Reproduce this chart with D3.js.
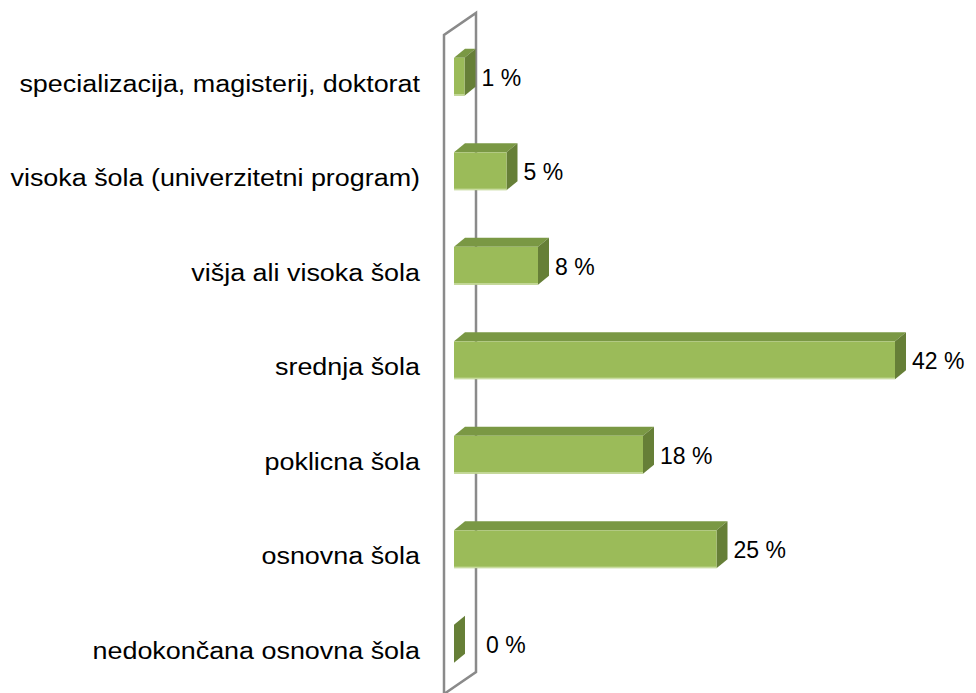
<!DOCTYPE html>
<html lang="sl">
<head>
<meta charset="UTF-8">
<title>Izobrazba</title>
<script src="https://d3js.org/d3.v7.min.js"></script>
<style>
  body { margin: 0; background: #fff; }
  text { font-family: "Liberation Sans", Arial, sans-serif; font-size: 23px; fill: #000; }
  .wall { fill: none; stroke: #8a8a8a; stroke-width: 2.5; }
</style>
</head>
<body>
<div id="chart"></div>
<script>
// categories top to bottom and their shares (%)
var categories = [
  "specializacija, magisterij, doktorat",
  "visoka šola (univerzitetni program)",
  "višja ali visoka šola",
  "srednja šola",
  "poklicna šola",
  "osnovna šola",
  "nedokončana osnovna šola"
];
var values = [1, 5, 8, 42, 18, 25, 0];
var valueLabels = ["1 %", "5 %", "8 %", "42 %", "18 %", "25 %", "0 %"];

var width = 976, height = 693;
var depthX = 11, depthY = 9;   // 3d offset of the bars

var svg = d3.select("#chart").append("svg")
    .attr("width", width).attr("height", height);

var x = d3.scaleLinear().domain([0, 45]).range([454, 926.5]);
var y = d3.scaleBand().domain(categories)
    .range([29.5, 691]).paddingInner(0.6).paddingOuter(0.3);

// back wall of the category axis
var wx0 = x(0) - 10, wx1 = x(0) + 22;
svg.append("path").attr("class", "wall")
    .attr("d", "M" + wx0 + ",720 L" + wx0 + ",35 L" + wx1 + ",13 L" + wx1 + ",672 L" + wx0 + ",694");

var bars = svg.append("g").selectAll("g")
    .data(categories).enter().append("g");

// top face
bars.append("path")
    .attr("fill", "#7a9844")
    .attr("d", function(d, i) {
      var x0 = x(0), x1 = x(values[i]), t = y(d);
      return "M" + x0 + "," + t + " L" + (x0 + depthX) + "," + (t - depthY) +
             " L" + (x1 + depthX) + "," + (t - depthY) + " L" + x1 + "," + t + "Z";
    });

// side face
bars.append("path")
    .attr("fill", "#667f37")
    .attr("d", function(d, i) {
      var x1 = x(values[i]), t = y(d), b = t + y.bandwidth();
      return "M" + x1 + "," + t + " L" + (x1 + depthX) + "," + (t - depthY) +
             " L" + (x1 + depthX) + "," + (b - depthY) + " L" + x1 + "," + b + "Z";
    });

// front face
bars.append("rect")
    .attr("x", x(0))
    .attr("y", function(d) { return y(d); })
    .attr("width", function(d, i) { return x(values[i]) - x(0); })
    .attr("height", y.bandwidth())
    .attr("fill", "#9bbb59");

bars.append("rect")
    .attr("x", x(0))
    .attr("y", function(d) { return y(d) + y.bandwidth() - 1.5; })
    .attr("width", function(d, i) { return x(values[i]) - x(0); })
    .attr("height", 1.5)
    .attr("fill", "#c9dca0");

// value labels
bars.append("text")
    .attr("x", function(d, i) { return x(values[i]) + depthX + (values[i] === 0 ? 21 : 6); })
    .attr("y", function(d) { return y(d) + y.bandwidth() / 2 + 9; })
    .text(function(d, i) { return valueLabels[i]; });

// category labels (slightly stretched like the original)
svg.append("g").selectAll("text")
    .data(categories).enter().append("text")
    .attr("transform", function(d) {
      return "translate(420," + (y(d) + y.bandwidth() / 2 + 15) + ") scale(1.17,1)";
    })
    .attr("text-anchor", "end")
    .text(function(d) { return d; });
</script>
</body>
</html>
